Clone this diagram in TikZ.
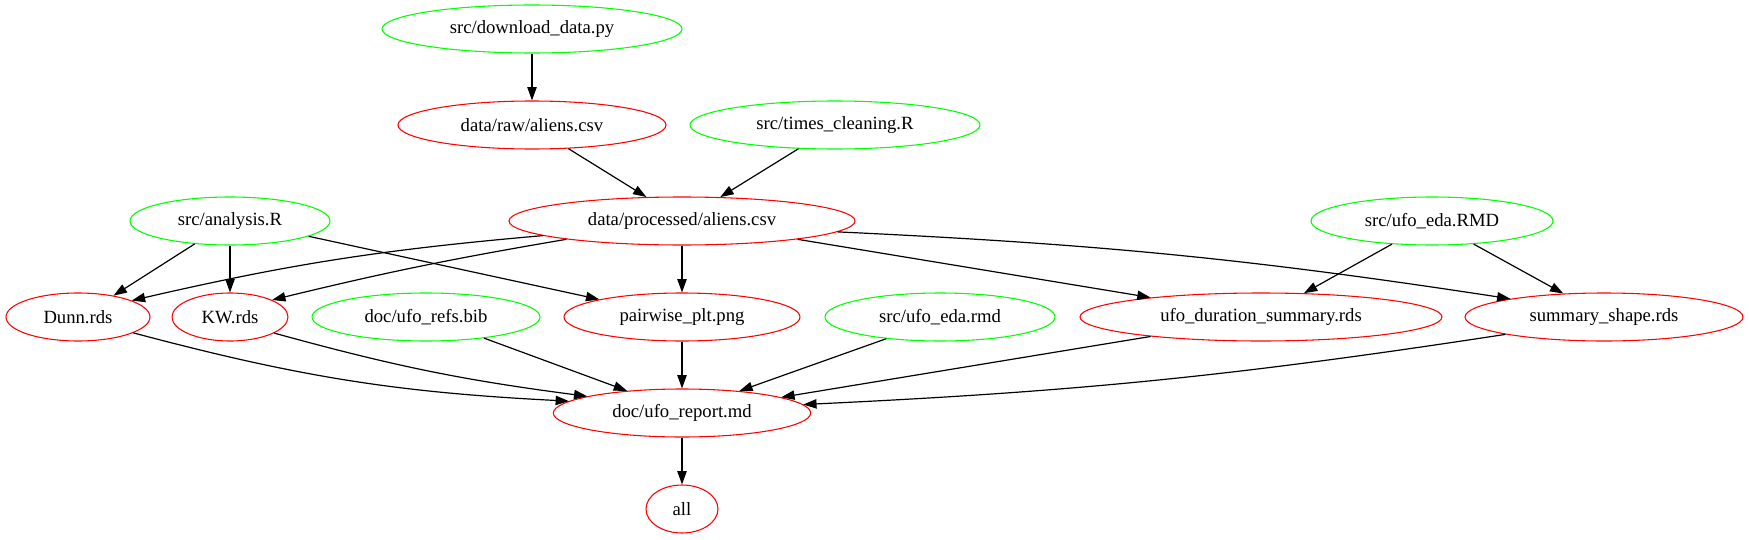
\documentclass[tikz,border=0pt]{standalone}
\usepackage{fontspec}
\setmainfont{Liberation Serif}
\usetikzlibrary{shapes.geometric,arrows.meta}
\definecolor{gvgreen}{HTML}{00FF00}
\definecolor{gvred}{HTML}{FF0000}
\tikzset{
  gnode/.style={ellipse,draw,line width=0.8pt,inner sep=0pt,minimum height=36pt,font=\fontsize{14}{16}\selectfont},
  greennode/.style={gnode,draw=gvgreen},
  rednode/.style={gnode,draw=gvred},
  conn/.style={line width=0.9pt,-{Triangle[length=10pt,width=7pt]}}
}
\begin{document}
\begin{tikzpicture}[x=1pt,y=1pt]
\useasboundingbox (0,0) rectangle (1311.75,-404.25);
\node[greennode,minimum width=225] (dl) at (399,-21.75) {src/download\_data.py};
\node[rednode,minimum width=201] (raw) at (399,-93.75) {data/raw/aliens.csv};
\node[greennode,minimum width=217.5] (times) at (626.25,-93.75) {src/times\_cleaning.R};
\node[rednode,minimum width=259.5] (proc) at (511.5,-165.75) {data/processed/aliens.csv};
\node[greennode,minimum width=150] (analysis) at (172.5,-165.75) {src/analysis.R};
\node[greennode,minimum width=181.5] (RMD) at (1074,-165.75) {src/ufo\_eda.RMD};
\node[rednode,minimum width=108] (Dunn) at (58.5,-237.75) {Dunn.rds};
\node[rednode,minimum width=87] (KW) at (172.5,-237.75) {KW.rds};
\node[greennode,minimum width=171] (bib) at (319.5,-237.75) {doc/ufo\_refs.bib};
\node[rednode,minimum width=177] (pair) at (511.5,-237.75) {pairwise\_plt.png};
\node[greennode,minimum width=172.5] (rmd) at (705,-237.75) {src/ufo\_eda.rmd};
\node[rednode,minimum width=271.5] (dur) at (945.75,-237.75) {ufo\_duration\_summary.rds};
\node[rednode,minimum width=208.5] (shape) at (1203,-237.75) {summary\_shape.rds};
\node[rednode,minimum width=193] (report) at (511.5,-309.75) {doc/ufo\_report.md};
\node[rednode,minimum width=54] (all) at (511.5,-381.75) {all};

\draw[conn] (dl.south) -- (raw.north);
\draw[conn] (raw.-33.7) -- (proc.146.3);
\draw[conn] (times.-147.7) -- (proc.32.3);
\draw[conn] (analysis.-147.4) -- (Dunn.31.7);
\draw[conn] (analysis.south) -- (KW.north);
\draw[conn] (analysis.-11.9) -- (pair.168.4);
\draw[conn] (proc.-174.4) to[bend right=4] (Dunn.17.8);
\draw[conn] (proc.-171.3) to[bend right=2] (KW.22.7);
\draw[conn] (proc.south) -- (pair.north);
\draw[conn] (proc.-9.1) -- (dur.170.5);
\draw[conn] (proc.-4.1) to[bend left=3] (shape.169.9);
\draw[conn] (RMD.-150.7) -- (dur.29.3);
\draw[conn] (RMD.-29.3) -- (shape.150.1);
\draw[conn] (Dunn.-16.8) to[bend right=6] (report.174.4);
\draw[conn] (KW.-20.4) to[bend right=4] (report.170.3);
\draw[conn] (bib.-20.2) -- (report.158);
\draw[conn] (pair.south) -- (report.north);
\draw[conn] (rmd.-158.7) -- (report.21);
\draw[conn] (dur.-170.5) -- (report.9.2);
\draw[conn] (shape.-170.4) to[bend left=3] (report.4.7);
\draw[conn] (report.south) -- (all.north);
\end{tikzpicture}
\end{document}
